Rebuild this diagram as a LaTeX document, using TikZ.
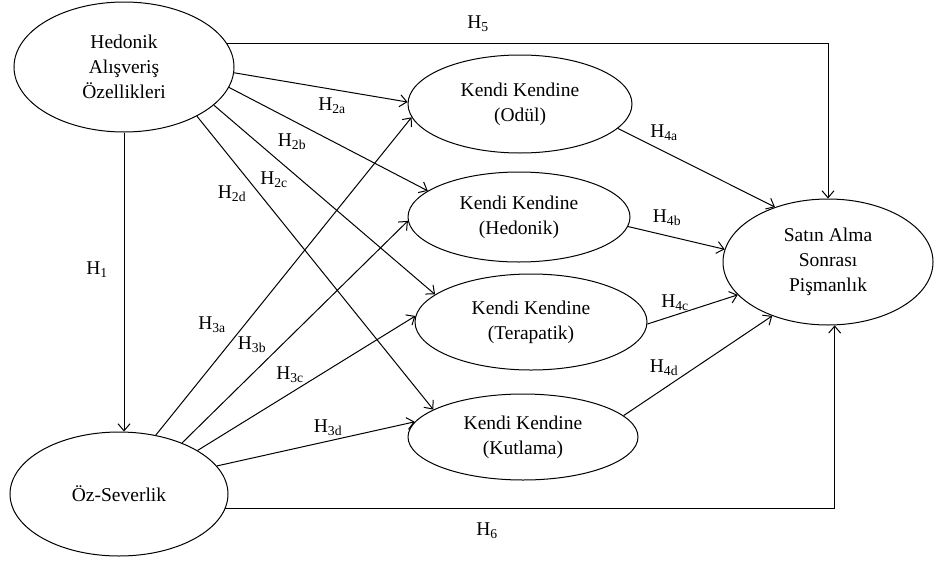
\documentclass[tikz,border=0pt]{standalone}
\usepackage{fontspec}
\setmainfont{Liberation Serif}
\usetikzlibrary{shapes.geometric,arrows.meta}
\begin{document}
\begin{tikzpicture}[x=1pt,y=-1pt,
  ell/.style={draw, ellipse, inner sep=0pt, align=center, line width=1pt,
    font=\fontsize{19.5}{25}\selectfont},
  arr/.style={-{Straight Barb[length=7pt,width=12pt,line width=1pt]}, line width=1pt},
  lbl/.style={inner sep=0pt, font=\fontsize{19.5}{22}\selectfont}]
\useasboundingbox (0,0) rectangle (937,560);
% nodes
\node[ell, minimum width=220pt, minimum height=130pt] (hed) at (124,67) {Hedonik\\Alışveriş\\Özellikleri};
\node[ell, minimum width=218pt, minimum height=124pt] (oz) at (119,494) {Öz-Severlik};
\node[ell, minimum width=224pt, minimum height=98pt] (odul) at (520,104) {Kendi Kendine\\(Odül)};
\node[ell, minimum width=222pt, minimum height=90pt] (hedk) at (519,217) {Kendi Kendine\\(Hedonik)};
\node[ell, minimum width=232pt, minimum height=96pt] (ter) at (531,322) {Kendi Kendine\\(Terapatik)};
\node[ell, minimum width=230pt, minimum height=86pt] (kut) at (523,437) {Kendi Kendine\\(Kutlama)};
\node[ell, minimum width=210pt, minimum height=126pt] (sat) at (828,262) {Satın Alma\\Sonrası\\Pişmanlık};
% connectors
\draw[arr] (hed.13) -| (sat.north);
\draw[arr] (oz.-8.4) -| (sat.-84.5);
\draw[arr] (hed.south) -- (hed.south |- oz.north);
\draw[arr] (hed.-3.7) -- (odul.179);
\draw[arr] (hed.-11.9) -- (hedk.164.2);
\draw[arr] (hed.-23.7) -- (ter.164.7);
\draw[arr] (hed.-34.4) -- (kut.163.3);
\draw[arr] (oz.58.6) -- (odul.187);
\draw[arr] (oz.39.9) -- (hedk.182.6);
\draw[arr] (oz.29.7) -- (ter.177.6);
\draw[arr] (oz.16.3) -- (kut.172.7);
\draw[arr] (odul.-14.9) -- (sat.134);
\draw[arr] (hedk.-5.2) -- (sat.173.5);
\draw[arr] (ter.-1.5) -- (sat.200.6);
\draw[arr] (kut.12.2) -- (sat.224.5);
% labels
\node[lbl] (l5) at (478,24) {H\textsubscript{5}};
\node[lbl] (l6) at (487,531) {H\textsubscript{6}};
\node[lbl] (l1) at (97,270) {H\textsubscript{1}};
\node[lbl] (l2a) at (332,106) {H\textsubscript{2a}};
\node[lbl] (l2b) at (292,142) {H\textsubscript{2b}};
\node[lbl] (l2c) at (274,180) {H\textsubscript{2c}};
\node[lbl] (l2d) at (232,194) {H\textsubscript{2d}};
\node[lbl] (l3a) at (212,325) {H\textsubscript{3a}};
\node[lbl] (l3b) at (252,345) {H\textsubscript{3b}};
\node[lbl] (l3c) at (290,375) {H\textsubscript{3c}};
\node[lbl] (l3d) at (328,428) {H\textsubscript{3d}};
\node[lbl] (l4a) at (664,133) {H\textsubscript{4a}};
\node[lbl] (l4b) at (667,218) {H\textsubscript{4b}};
\node[lbl] (l4c) at (675,303) {H\textsubscript{4c}};
\node[lbl] (l4d) at (664,368) {H\textsubscript{4d}};
\end{tikzpicture}
\end{document}
